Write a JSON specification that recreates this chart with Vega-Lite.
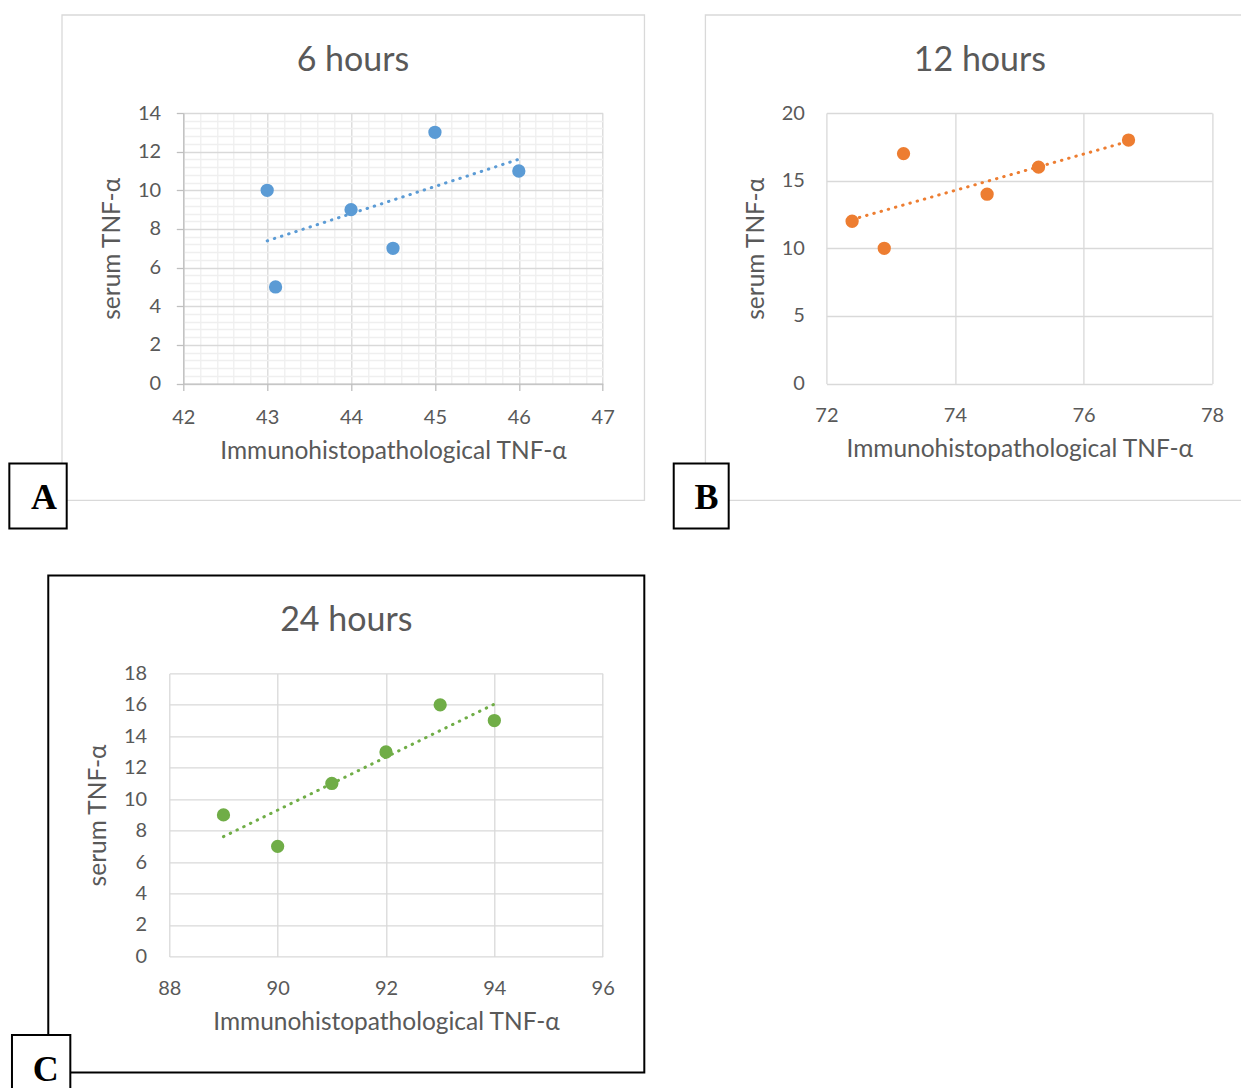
{
  "$schema": "https://vega.github.io/schema/vega-lite/v6.json",
  "padding": {"left": 8.3, "top": 14, "right": 0, "bottom": 0},
  "background": "white",
  "datasets": {
    "h6": [
      {"immuno": 43, "serum": 10},
      {"immuno": 43.1, "serum": 5},
      {"immuno": 44, "serum": 9},
      {"immuno": 44.5, "serum": 7},
      {"immuno": 45, "serum": 13},
      {"immuno": 46, "serum": 11}
    ],
    "h12": [
      {"immuno": 72.4, "serum": 12},
      {"immuno": 72.9, "serum": 10},
      {"immuno": 73.2, "serum": 17},
      {"immuno": 74.5, "serum": 14},
      {"immuno": 75.3, "serum": 16},
      {"immuno": 76.7, "serum": 18}
    ],
    "h24": [
      {"immuno": 89, "serum": 9},
      {"immuno": 90, "serum": 7},
      {"immuno": 91, "serum": 11},
      {"immuno": 92, "serum": 13},
      {"immuno": 93, "serum": 16},
      {"immuno": 94, "serum": 15}
    ],
    "one": [{}]
  },
  "config": {
    "view": {"stroke": null},
    "font": "Lato",
    "axis": {
      "labelFont": "Lato", "titleFont": "Lato",
      "labelColor": "#595959", "titleColor": "#595959",
      "labelFontSize": 20, "titleFontSize": 24.5, "titleFontWeight": "normal",
      "gridColor": "#d9d9d9", "gridWidth": 1.3,
      "labelFlush": false, "labelOverlap": false,
      "domain": false, "ticks": false, "tickSize": 0
    },
    "text": {"font": "Lato", "color": "#595959"}
  },
  "spacing": 44.4,
  "vconcat": [
    {
      "spacing": -162,
      "hconcat": [
        {
          "width": 1, "height": 1,
          "data": {"name": "one"},
          "mark": {"type": "text", "text": ""}
        },
        {
          "spacing": 27.1,
          "hconcat": [
            {
              "width": 419.4, "height": 270.6,
              "data": {"name": "h6"},
              "resolve": {"axis": {"x": "independent", "y": "independent"}},
              "layer": [
                {
                  "data": {"name": "one"},
                  "mark": {"type": "rect", "fill": "white", "fillOpacity": 0, "stroke": "#d9d9d9", "strokeWidth": 1.3},
                  "encoding": {
                    "x": {"datum": 40.554, "type": "quantitative", "scale": {"domain": [42, 47], "nice": false, "zero": false}, "axis": null},
                    "x2": {"datum": 47.498},
                    "y": {"datum": 19.07, "type": "quantitative", "scale": {"domain": [0, 14], "nice": false, "zero": false}, "axis": null},
                    "y2": {"datum": -6.038}
                  }
                },
                {
                  "transform": [{"regression": "serum", "on": "immuno"}],
                  "mark": {"type": "line", "color": "#5B9BD5", "strokeWidth": 3, "strokeDash": [0.5, 7], "strokeCap": "round"},
                  "encoding": {
                    "x": {"field": "immuno", "type": "quantitative", "scale": {"domain": [42, 47], "nice": false, "zero": false},
                      "axis": {"orient": "top", "grid": true, "gridColor": "#efefef", "gridWidth": 1.3, "labels": false, "ticks": false, "domain": false, "title": null,
                        "values": [42.2, 42.4, 42.6, 42.8, 43.2, 43.4, 43.6, 43.8, 44.2, 44.4, 44.6, 44.8, 45.2, 45.4, 45.6, 45.8, 46.2, 46.4, 46.6, 46.8]}},
                    "y": {"field": "serum", "type": "quantitative", "scale": {"domain": [0, 14], "nice": false, "zero": false},
                      "axis": {"orient": "right", "grid": true, "gridColor": "#efefef", "gridWidth": 1.3, "labels": false, "ticks": false, "domain": false, "title": null,
                        "values": [0.4, 0.8, 1.2, 1.6, 2.4, 2.8, 3.2, 3.6, 4.4, 4.8, 5.2, 5.6, 6.4, 6.8, 7.2, 7.6, 8.4, 8.8, 9.2, 9.6, 10.4, 10.8, 11.2, 11.6, 12.4, 12.8, 13.2, 13.6]}}
                  }
                },
                {
                  "mark": {"type": "circle", "size": 177, "color": "#5B9BD5", "opacity": 1},
                  "encoding": {
                    "x": {"field": "immuno", "type": "quantitative", "scale": {"domain": [42, 47], "nice": false, "zero": false},
                      "axis": {"orient": "bottom", "values": [42, 43, 44, 45, 46, 47], "grid": true, "domain": true, "domainColor": "#bfbfbf", "domainWidth": 1.3, "ticks": true, "tickColor": "#bfbfbf", "tickWidth": 1.3, "tickSize": 7, "labelPadding": 16.6, "title": "Immunohistopathological TNF-α", "titlePadding": 12}},
                    "y": {"field": "serum", "type": "quantitative", "scale": {"domain": [0, 14], "nice": false, "zero": false},
                      "axis": {"orient": "left", "values": [0, 2, 4, 6, 8, 10, 12, 14], "grid": true, "domain": true, "domainColor": "#bfbfbf", "domainWidth": 1.3, "ticks": true, "tickColor": "#bfbfbf", "tickWidth": 1.3, "tickSize": 7, "labelPadding": 15.6, "title": "serum  TNF-α", "titlePadding": 13}}
                  }
                },
                {
                  "data": {"name": "one"},
                  "mark": {"type": "text", "fontSize": 34, "align": "center", "baseline": "alphabetic"},
                  "encoding": {
                    "text": {"value": "6 hours"},
                    "x": {"datum": 44.023, "type": "quantitative", "scale": {"domain": [42, 47], "nice": false, "zero": false}, "axis": null},
                    "y": {"datum": 16.19, "type": "quantitative", "scale": {"domain": [0, 14], "nice": false, "zero": false}, "axis": null}
                  }
                },
                {
                  "data": {"name": "one"},
                  "mark": {"type": "rect", "fill": "white", "stroke": "black", "strokeWidth": 2},
                  "encoding": {
                    "x": {"datum": 39.926, "type": "quantitative", "scale": {"domain": [42, 47], "nice": false, "zero": false}, "axis": null},
                    "x2": {"datum": 40.61},
                    "y": {"datum": -4.139, "type": "quantitative", "scale": {"domain": [0, 14], "nice": false, "zero": false}, "axis": null},
                    "y2": {"datum": -7.502}
                  }
                },
                {
                  "data": {"name": "one"},
                  "mark": {"type": "text", "font": "Liberation Serif", "fontWeight": "bold", "fontSize": 36, "color": "black", "align": "center", "baseline": "alphabetic"},
                  "encoding": {
                    "text": {"value": "A"},
                    "x": {"datum": 40.339, "type": "quantitative", "scale": {"domain": [42, 47], "nice": false, "zero": false}, "axis": null},
                    "y": {"datum": -6.467, "type": "quantitative", "scale": {"domain": [0, 14], "nice": false, "zero": false}, "axis": null}
                  }
                }
              ]
            },
            {
              "width": 385.7, "height": 270.6,
              "data": {"name": "h12"},
              "resolve": {"axis": {"x": "independent", "y": "independent"}},
              "layer": [
                {
                  "data": {"name": "one"},
                  "mark": {"type": "rect", "fill": "white", "fillOpacity": 0, "stroke": "#d9d9d9", "strokeWidth": 1.3},
                  "encoding": {
                    "x": {"datum": 70.118, "type": "quantitative", "scale": {"domain": [72, 78], "nice": false, "zero": false}, "axis": null},
                    "x2": {"datum": 79.187},
                    "y": {"datum": 27.243, "type": "quantitative", "scale": {"domain": [0, 20], "nice": false, "zero": false}, "axis": null},
                    "y2": {"datum": -8.625}
                  }
                },
                {
                  "transform": [{"regression": "serum", "on": "immuno"}],
                  "mark": {"type": "line", "color": "#ED7D31", "strokeWidth": 3, "strokeDash": [0.5, 7], "strokeCap": "round"},
                  "encoding": {
                    "x": {"field": "immuno", "type": "quantitative", "scale": {"domain": [72, 78], "nice": false, "zero": false}, "axis": null},
                    "y": {"field": "serum", "type": "quantitative", "scale": {"domain": [0, 20], "nice": false, "zero": false}, "axis": null}
                  }
                },
                {
                  "mark": {"type": "circle", "size": 177, "color": "#ED7D31", "opacity": 1},
                  "encoding": {
                    "x": {"field": "immuno", "type": "quantitative", "scale": {"domain": [72, 78], "nice": false, "zero": false},
                      "axis": {"orient": "bottom", "values": [72, 74, 76, 78], "grid": true, "labelPadding": 22, "title": "Immunohistopathological TNF-α", "titlePadding": 12}},
                    "y": {"field": "serum", "type": "quantitative", "scale": {"domain": [0, 20], "nice": false, "zero": false},
                      "axis": {"orient": "left", "values": [0, 5, 10, 15, 20], "grid": true, "labelPadding": 22, "title": "serum  TNF-α", "titlePadding": 13}}
                  }
                },
                {
                  "data": {"name": "one"},
                  "mark": {"type": "text", "fontSize": 34, "align": "center", "baseline": "alphabetic"},
                  "encoding": {
                    "text": {"value": "12 hours"},
                    "x": {"datum": 74.388, "type": "quantitative", "scale": {"domain": [72, 78], "nice": false, "zero": false}, "axis": null},
                    "y": {"datum": 23.119, "type": "quantitative", "scale": {"domain": [0, 20], "nice": false, "zero": false}, "axis": null}
                  }
                },
                {
                  "data": {"name": "one"},
                  "mark": {"type": "rect", "fill": "white", "stroke": "black", "strokeWidth": 2},
                  "encoding": {
                    "x": {"datum": 69.625, "type": "quantitative", "scale": {"domain": [72, 78], "nice": false, "zero": false}, "axis": null},
                    "x2": {"datum": 70.48},
                    "y": {"datum": -5.913, "type": "quantitative", "scale": {"domain": [0, 20], "nice": false, "zero": false}, "axis": null},
                    "y2": {"datum": -10.717}
                  }
                },
                {
                  "data": {"name": "one"},
                  "mark": {"type": "text", "font": "Liberation Serif", "fontWeight": "bold", "fontSize": 36, "color": "black", "align": "center", "baseline": "alphabetic"},
                  "encoding": {
                    "text": {"value": "B"},
                    "x": {"datum": 70.136, "type": "quantitative", "scale": {"domain": [72, 78], "nice": false, "zero": false}, "axis": null},
                    "y": {"datum": -9.239, "type": "quantitative", "scale": {"domain": [0, 20], "nice": false, "zero": false}, "axis": null}
                  }
                }
              ]
            }
          ]
        }
      ]
    },
    {
      "width": 433.4, "height": 283,
      "data": {"name": "h24"},
      "resolve": {"axis": {"x": "independent", "y": "independent"}},
      "layer": [
        {
          "data": {"name": "one"},
          "mark": {"type": "rect", "fill": "white", "fillOpacity": 0, "stroke": "black", "strokeWidth": 2},
          "encoding": {
            "x": {"datum": 85.766, "type": "quantitative", "scale": {"domain": [88, 96], "nice": false, "zero": false}, "axis": null},
            "x2": {"datum": 96.768},
            "y": {"datum": 24.233, "type": "quantitative", "scale": {"domain": [0, 18], "nice": false, "zero": false}, "axis": null},
            "y2": {"datum": -7.378}
          }
        },
        {
          "transform": [{"regression": "serum", "on": "immuno"}],
          "mark": {"type": "line", "color": "#70AD47", "strokeWidth": 3, "strokeDash": [0.5, 7], "strokeCap": "round"},
          "encoding": {
            "x": {"field": "immuno", "type": "quantitative", "scale": {"domain": [88, 96], "nice": false, "zero": false}, "axis": null},
            "y": {"field": "serum", "type": "quantitative", "scale": {"domain": [0, 18], "nice": false, "zero": false}, "axis": null}
          }
        },
        {
          "mark": {"type": "circle", "size": 177, "color": "#70AD47", "opacity": 1},
          "encoding": {
            "x": {"field": "immuno", "type": "quantitative", "scale": {"domain": [88, 96], "nice": false, "zero": false},
              "axis": {"orient": "bottom", "values": [88, 90, 92, 94, 96], "grid": true, "labelPadding": 22.2, "title": "Immunohistopathological TNF-α", "titlePadding": 12}},
            "y": {"field": "serum", "type": "quantitative", "scale": {"domain": [0, 18], "nice": false, "zero": false},
              "axis": {"orient": "left", "values": [0, 2, 4, 6, 8, 10, 12, 14, 16, 18], "grid": true, "labelPadding": 22.6, "title": "serum  TNF-α", "titlePadding": 13}}
          }
        },
        {
          "data": {"name": "one"},
          "mark": {"type": "text", "fontSize": 34, "align": "center", "baseline": "alphabetic"},
          "encoding": {
            "text": {"value": "24 hours"},
            "x": {"datum": 91.267, "type": "quantitative", "scale": {"domain": [88, 96], "nice": false, "zero": false}, "axis": null},
            "y": {"datum": 20.716, "type": "quantitative", "scale": {"domain": [0, 18], "nice": false, "zero": false}, "axis": null}
          }
        },
        {
          "data": {"name": "one"},
          "mark": {"type": "rect", "fill": "white", "stroke": "black", "strokeWidth": 2},
          "encoding": {
            "x": {"datum": 85.096, "type": "quantitative", "scale": {"domain": [88, 96], "nice": false, "zero": false}, "axis": null},
            "x2": {"datum": 86.173},
            "y": {"datum": -4.999, "type": "quantitative", "scale": {"domain": [0, 18], "nice": false, "zero": false}, "axis": null},
            "y2": {"datum": -9.134}
          }
        },
        {
          "data": {"name": "one"},
          "mark": {"type": "text", "font": "Liberation Serif", "fontWeight": "bold", "fontSize": 36, "color": "black", "align": "center", "baseline": "alphabetic"},
          "encoding": {
            "text": {"value": "C"},
            "x": {"datum": 85.72, "type": "quantitative", "scale": {"domain": [88, 96], "nice": false, "zero": false}, "axis": null},
            "y": {"datum": -7.906, "type": "quantitative", "scale": {"domain": [0, 18], "nice": false, "zero": false}, "axis": null}
          }
        }
      ]
    }
  ]
}
